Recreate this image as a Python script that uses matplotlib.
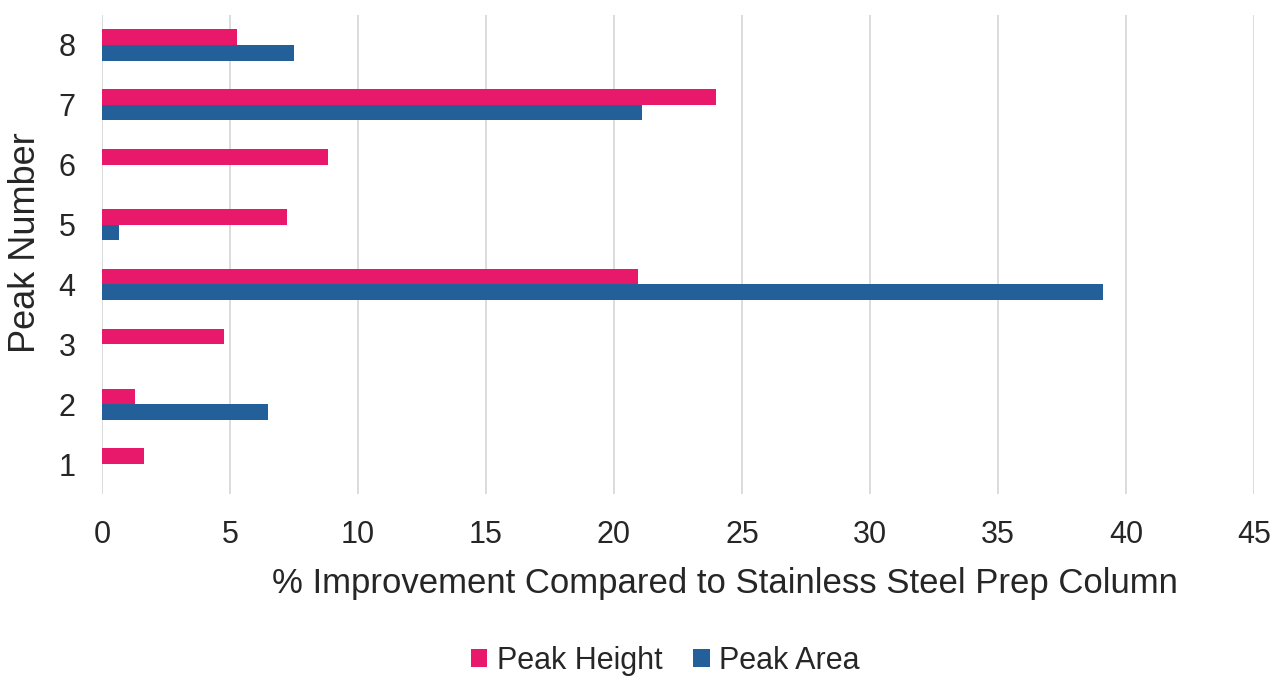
import matplotlib
matplotlib.use("Agg")
import matplotlib.pyplot as plt
import numpy as np

peaks = ["1", "2", "3", "4", "5", "6", "7", "8"]
peak_height = [1.66, 1.29, 4.76, 20.94, 7.23, 8.81, 23.97, 5.27]
peak_area = [0, 6.5, 0, 39.1, 0.65, 0, 21.08, 7.51]

plt.rcParams["font.family"] = ["Liberation Sans", "DejaVu Sans"]

fig = plt.figure(figsize=(12.8, 6.77), dpi=100)
ax = fig.add_axes([102 / 1280, 1 - 494 / 677, (1254 - 102) / 1280, (494 - 15) / 677])

y = np.arange(1, len(peaks) + 1)
h = 0.26
ax.barh(y + h / 2, peak_height, height=h, color="#E8186A", label="Peak Height", zorder=3)
ax.barh(y - h / 2, peak_area, height=h, color="#235F99", label="Peak Area", zorder=3)

ax.set_xlim(0, 45)
ax.set_ylim(0.5, 8.5)
ax.set_xticks(np.arange(0, 46, 5))
ax.set_yticks(y)
ax.set_yticklabels(peaks)
ax.grid(axis="x", color="#D9D9D9", lw=1.3, zorder=0)
for s in ax.spines.values():
    s.set_visible(False)
ax.tick_params(length=0, labelsize=22, colors="#262626")
ax.tick_params(axis="x", pad=19)
ax.tick_params(axis="y", pad=19)

ax.set_xlabel("% Improvement Compared to Stainless Steel Prep Column", fontsize=25, color="#262626")
ax.xaxis.set_label_coords((725 - 102) / (1254 - 102), -0.152)
ax.set_ylabel("Peak Number", fontsize=26, color="#262626")
ax.yaxis.set_label_coords(-0.051, 0.525)

ax.legend(loc="center", bbox_to_anchor=(665 / 1280, 1 - 661 / 677), bbox_transform=fig.transFigure,
          ncol=2, frameon=False, fontsize=22, handlelength=0.55, handleheight=0.55,
          handletextpad=0.3, columnspacing=1.0, labelcolor="#262626")

fig.savefig("out.png", dpi=100)
